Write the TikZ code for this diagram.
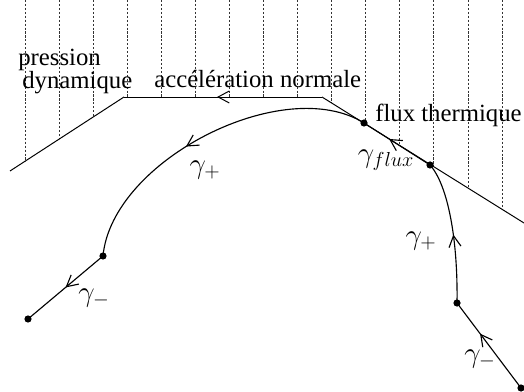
\documentclass[tikz,border=0pt]{standalone}
\usepackage{fontspec}
\setmainfont{Liberation Serif}
\usetikzlibrary{arrows.meta,decorations.markings}

\begin{document}
\begin{tikzpicture}[
  x=0.025cm, y=-0.025cm,
  border/.style={line width=0.7pt},
  traj/.style={line width=0.8pt},
  hatch/.style={dash pattern=on 1.5pt off 1.3pt, line width=0.5pt, black!80},
  pt/.style={circle, fill, inner sep=0pt, minimum size=0.18cm},
  lbl/.style={font=\fontsize{17.6}{20}\selectfont, inner sep=0pt, anchor=base west},
  gam/.style={font=\fontsize{21}{24}\selectfont, inner sep=0pt},
  midarrow/.style={postaction={decorate}, decoration={markings,
    mark=at position #1 with {\arrow{Straight Barb[length=0.28cm,width=0.3cm]}}}}
]
\useasboundingbox (0,0) rectangle (524,392);

% boundary of the region
\coordinate (l0) at (10,171);
\coordinate (l1) at (124,97);
\coordinate (l2) at (322,97);
\coordinate (l3) at (524,223);

\begin{scope}
  \clip (0,178) -- (l1) -- (l2) -- (l3) -- (524,0) -- (0,0) -- cycle;
  \foreach \i in {0,...,14}
    \draw[hatch] ({25+34.07*\i},0) -- ++(0,392);
\end{scope}

\draw[border] (l0) -- (l1);
\draw[border, midarrow=0.53] (l2) -- (l1);
\draw[border] (l2) -- (l3);

% points of the trajectory
\node[pt] (f) at (521,388) {};
\node[pt] (e) at (457,303) {};
\node[pt] (d) at (430,165) {};
\node[pt] (c) at (364,123) {};
\node[pt] (a) at (103,256) {};
\node[pt] (b) at (28,319) {};

\draw[traj, midarrow=0.64] (f.center) -- (e.center);
\draw[traj, midarrow=0.48] (e.center) .. controls (458,240) and (448,185) .. (d.center);
\draw[traj, midarrow=0.62] (d.center) -- (c.center);
\draw[traj, midarrow=0.57] (c.center) .. controls (284,73) and (112,160) .. (a.center);
\draw[traj, midarrow=0.5] (a.center) -- (b.center);

% labels
\node[lbl] (pres) at (18,66) {pression};
\node[lbl] (dyn) at (22,89) {dynamique};
\node[lbl] (acc) at (154,88) {accélération normale};
\node[lbl] (flux) at (375,122) {flux thermique};

\node[gam] (gplus) at (205,170) {$\gamma_+$};
\node[gam] (gminus) at (94,298) {$\gamma_-$};
\node[gam] (gflux) at (386,160) {$\gamma_{flux}$};
\node[gam] (gplus2) at (421,241) {$\gamma_+$};
\node[gam] (gminus2) at (480,359) {$\gamma_-$};
\end{tikzpicture}
\end{document}
